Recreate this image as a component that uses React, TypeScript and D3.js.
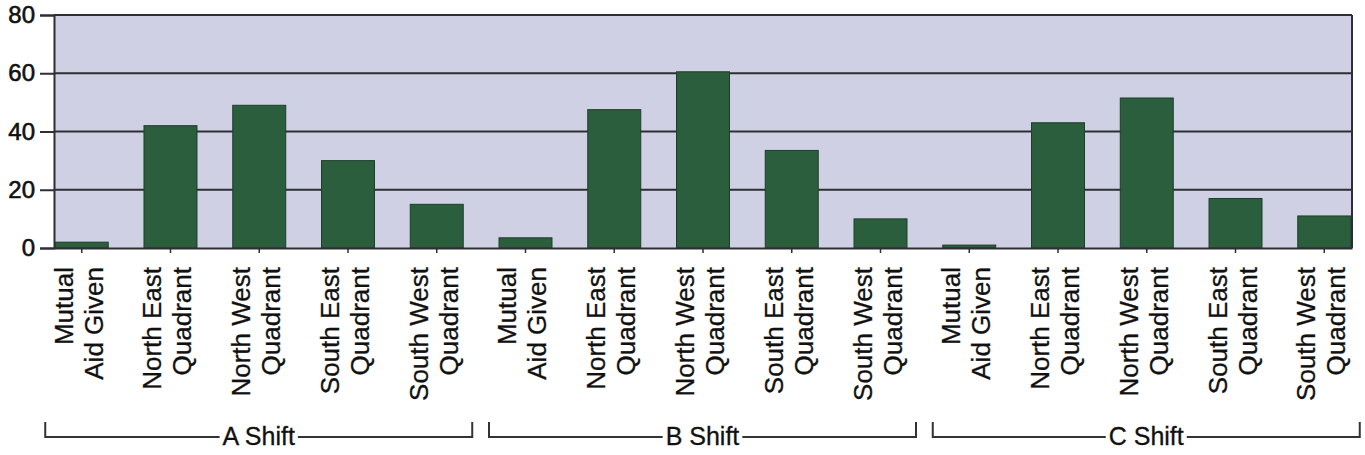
import * as d3 from 'd3';
import React from 'react';

// Chart values.
const shifts = ['A Shift', 'B Shift', 'C Shift'];
const areas = [
    ['Mutual', 'Aid Given'],
    ['North East', 'Quadrant'],
    ['North West', 'Quadrant'],
    ['South East', 'Quadrant'],
    ['South West', 'Quadrant'],
];
const aShift = [2, 42, 49, 30, 15];
const bShift = [3.5, 47.5, 60.5, 33.5, 10];
const cShift = [1, 43, 51.5, 17, 11];
const yTicks = [0, 20, 40, 60, 80];

const width = 1365;
const height = 455;
const margin = { top: 15, right: 13, bottom: 207, left: 54 };

const App = (): React.ReactElement => {
    const chartRef = React.useRef<SVGSVGElement>(null);

    React.useEffect(() => {
        const values = [aShift, bShift, cShift];
        const rows = shifts.flatMap((s, si) =>
            areas.map((a, ai) => ({ shift: s, label: a, value: values[si][ai], key: si * areas.length + ai }))
        );

        const x = d3
            .scaleBand<number>()
            .domain(rows.map((d) => d.key))
            .range([margin.left, width - margin.right])
            .paddingInner(0.403)
            .paddingOuter(0.014);
        const y = d3
            .scaleLinear()
            .domain([0, 80])
            .range([height - margin.bottom, margin.top]);

        const svg = d3.select(chartRef.current);
        svg.selectAll('*').remove();
        const font = 'Arial, "Liberation Sans", sans-serif';
        const ink = '#111';

        // Plot background.
        svg.append('rect')
            .attr('x', margin.left)
            .attr('y', margin.top)
            .attr('width', width - margin.left - margin.right)
            .attr('height', y(0) - margin.top)
            .attr('fill', '#cfd0e3');

        // Gridlines.
        svg.append('g')
            .selectAll('line')
            .data(yTicks.filter((t) => t > 0))
            .enter()
            .append('line')
            .attr('x1', margin.left)
            .attr('x2', width - margin.right)
            .attr('y1', (d) => y(d))
            .attr('y2', (d) => y(d))
            .attr('stroke', '#2e2e34')
            .attr('stroke-width', 2);

        // Right border.
        svg.append('line')
            .attr('x1', width - margin.right)
            .attr('x2', width - margin.right)
            .attr('y1', margin.top)
            .attr('y2', y(0))
            .attr('stroke', '#2e2e34')
            .attr('stroke-width', 2);

        // Bars.
        svg.append('g')
            .selectAll('rect')
            .data(rows)
            .enter()
            .append('rect')
            .attr('x', (d) => x(d.key) as number)
            .attr('y', (d) => y(d.value))
            .attr('width', x.bandwidth())
            .attr('height', (d) => y(0) - y(d.value))
            .attr('fill', '#2a5e3c')
            .attr('stroke', '#1d3f28')
            .attr('stroke-width', 1);

        // Y axis.
        const yAxis = d3
            .axisLeft(y)
            .tickValues(yTicks)
            .tickSize(14)
            .tickPadding(5)
            .tickFormat((d) => String(d));
        const gy = svg.append('g').attr('transform', 'translate(' + margin.left + ',0)').call(yAxis);
        gy.select('.domain').attr('stroke', '#2e2e34').attr('stroke-width', 2);
        gy.selectAll('.tick line').attr('stroke', '#2e2e34').attr('stroke-width', 2);
        gy.selectAll('.tick text')
            .attr('font-family', font)
            .attr('font-size', 24)
            .attr('fill', ink)
            .attr('stroke', ink)
            .attr('stroke-width', 0.6);

        // X axis line and ticks.
        const xAxis = d3
            .axisBottom(x)
            .tickSizeInner(5)
            .tickSizeOuter(0)
            .tickFormat(() => '');
        const gx = svg.append('g').attr('transform', 'translate(0,' + y(0) + ')').call(xAxis);
        gx.select('.domain').attr('stroke', '#2e2e34').attr('stroke-width', 2);
        gx.selectAll('.tick line').attr('stroke', '#2e2e34').attr('stroke-width', 1.5);

        // Category labels, rotated, two lines.
        const labels = svg.append('g')
            .selectAll('text')
            .data(rows)
            .enter()
            .append('text')
            .attr('transform', (d) => 'translate(' + ((x(d.key) as number) + x.bandwidth() / 2) + ',' + (y(0) + 19) + ') rotate(-90)')
            .attr('text-anchor', 'end')
            .attr('font-family', font)
            .attr('font-size', 26)
            .attr('fill', ink)
            .attr('stroke', ink)
            .attr('stroke-width', 0.3);
        labels.append('tspan').attr('x', 0).attr('y', -9).text((d) => d.label[0]);
        labels.append('tspan').attr('x', 0).attr('y', 21).text((d) => d.label[1]);

        // Shift brackets.
        const bracketY = 437;
        shifts.forEach((s, si) => {
            const first = si * areas.length;
            const last = first + areas.length - 1;
            const x0 = (x(first) as number) - 10;
            const x1 = (x(last) as number) + x.bandwidth() + 9;
            const cx = (x0 + x1) / 2;
            const g = svg.append('g');
            const label = g.append('text')
                .attr('x', cx)
                .attr('y', bracketY + 8)
                .attr('text-anchor', 'middle')
                .attr('font-family', font)
                .attr('font-size', 25)
                .attr('fill', ink)
                .attr('stroke', ink)
                .attr('stroke-width', 0.3)
                .text(s);
            const tw = (label.node() as SVGTextElement).getComputedTextLength();
            g.append('path')
                .attr('d', 'M' + x0 + ',' + (bracketY - 15) + 'V' + bracketY + 'H' + (cx - tw / 2 - 3))
                .attr('fill', 'none')
                .attr('stroke', '#333')
                .attr('stroke-width', 2);
            g.append('path')
                .attr('d', 'M' + (cx + tw / 2 + 3) + ',' + bracketY + 'H' + x1 + 'V' + (bracketY - 15))
                .attr('fill', 'none')
                .attr('stroke', '#333')
                .attr('stroke-width', 2);
        });
    }, [chartRef]);

    return (
        <div style={{ position: 'absolute', left: 0, top: 0 }}>
            <svg ref={chartRef} width={width} height={height} style={{ display: 'block', background: '#fff' }}></svg>
        </div>
    );
};

export default App;
